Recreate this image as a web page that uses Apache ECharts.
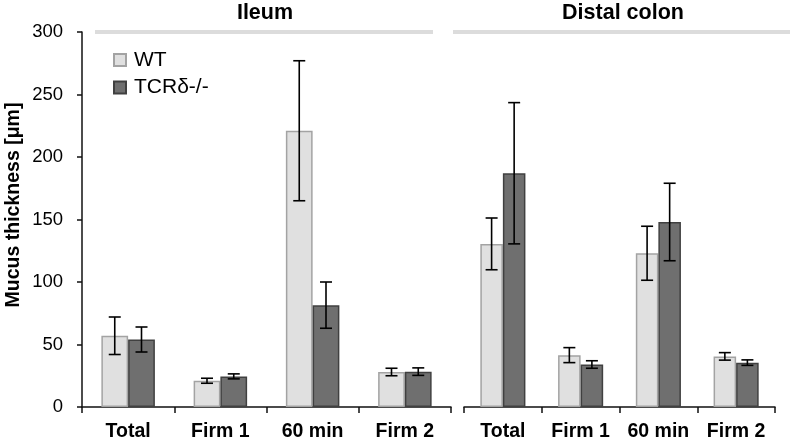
<!DOCTYPE html>
<html><head><meta charset="utf-8">
<script src="https://cdn.jsdelivr.net/npm/echarts@6/dist/echarts.min.js"></script>
<style>html,body{margin:0;padding:0;background:#fff}#c{width:792px;height:447px}</style>
</head><body><div id="c"></div>
<script>
const categories = ['Total', 'Firm 1', '60 min', 'Firm 2'];
const groups = ['Ileum', 'Distal colon'];
const seriesNames = ['WT', 'TCRδ-/-'];
const yTitle = 'Mucus thickness [μm]';
// Ileum
const ileumWT = [57, 21, 221, 28];
const ileumWTErr = [15, 2, 56, 3];
const ileumKO = [54, 24.5, 81.5, 28.3];
const ileumKOErr = [10, 2, 18.5, 3];
// Distal colon
const colonWT = [130.5, 41.5, 123, 40.5];
const colonWTErr = [20.7, 6, 21.6, 3];
const colonKO = [187, 34, 148, 35.5];
const colonKOErr = [56.5, 3, 31, 2.2];
const yTicks = [0, 50, 100, 150, 200, 250, 300];

const FONT = 'Liberation Sans, Arial, sans-serif';
const WT_STYLE = {color: '#e0e0e0', borderColor: '#a3a3a3', borderWidth: 1.5};
const KO_STYLE = {color: '#6f6f6f', borderColor: '#404040', borderWidth: 1.5};

function errData(vals, errs) {
  return vals.map((v, i) => [i, v - errs[i], v + errs[i]]);
}
function errSeries(idx, vals, errs, sign) {
  return {
    type: 'custom', xAxisIndex: idx, yAxisIndex: idx, z: 5,
    data: errData(vals, errs),
    encode: {x: 0, y: [1, 2]},
    renderItem: function (params, api) {
      const lo = api.coord([api.value(0), api.value(1)]);
      const hi = api.coord([api.value(0), api.value(2)]);
      const band = api.size([1, 0])[0];
      const x = lo[0] + sign * band * 0.145;
      const cap = 6;
      const st = {stroke: '#000', lineWidth: 1.6};
      return {type: 'group', children: [
        {type: 'line', shape: {x1: x, y1: lo[1], x2: x, y2: hi[1]}, style: st},
        {type: 'line', shape: {x1: x - cap, y1: lo[1], x2: x + cap, y2: lo[1]}, style: st},
        {type: 'line', shape: {x1: x - cap, y1: hi[1], x2: x + cap, y2: hi[1]}, style: st}
      ]};
    },
    silent: true
  };
}
function xAxisCfg(idx) {
  return {
    type: 'category', gridIndex: idx, data: categories,
    axisLine: {lineStyle: {color: '#111', width: 1.5}},
    axisTick: {show: true, length: 6, lineStyle: {color: '#111', width: 1.5}},
    axisLabel: {color: '#000', fontFamily: FONT, fontWeight: 'bold', fontSize: 19.5, margin: 15, interval: 0}
  };
}

const chart = echarts.init(document.getElementById('c'), null, {renderer: 'canvas'});
chart.setOption({
  animation: false,
  backgroundColor: '#fff',
  title: [
    {text: groups[0], left: 265, top: 2, padding: 0, textAlign: 'center',
     textStyle: {fontFamily: FONT, fontWeight: 'bold', fontSize: 21.5, color: '#000'}},
    {text: groups[1], left: 623, top: 2, padding: 0, textAlign: 'center',
     textStyle: {fontFamily: FONT, fontWeight: 'bold', fontSize: 21.5, color: '#000'}}
  ],
  graphic: [
    {type: 'line', shape: {x1: 95, y1: 32, x2: 433, y2: 32}, style: {stroke: '#dcdcdc', lineWidth: 4}, z: 0},
    {type: 'line', shape: {x1: 453, y1: 32, x2: 790, y2: 32}, style: {stroke: '#dcdcdc', lineWidth: 4}, z: 0},
    {type: 'text', x: 14, y: 205, rotation: Math.PI / 2,
     style: {text: yTitle, fontFamily: FONT, fontWeight: 'bold', fontSize: 19.5, fill: '#000',
             align: 'center', verticalAlign: 'middle'}}
  ],
  legend: {
    data: seriesNames, orient: 'vertical', left: 113, top: 48, padding: 0,
    itemWidth: 12, itemHeight: 12, itemGap: 3.5, icon: 'rect',
    textStyle: {fontFamily: FONT, fontSize: 21, color: '#000', lineHeight: 24, padding: [0, 0, 0, 3]}
  },
  grid: [
    {left: 82, right: 341, top: 32, bottom: 40},
    {left: 464, right: 17, top: 32, bottom: 40}
  ],
  xAxis: [xAxisCfg(0), xAxisCfg(1)],
  yAxis: [
    {type: 'value', gridIndex: 0, min: yTicks[0], max: yTicks[yTicks.length - 1], interval: 50,
     axisLine: {show: true, lineStyle: {color: '#111', width: 1.5}},
     axisTick: {show: true, length: 5, lineStyle: {color: '#111', width: 1.5}},
     splitLine: {show: false},
     axisLabel: {color: '#000', fontFamily: FONT, fontSize: 18.5, margin: 19}},
    {type: 'value', gridIndex: 1, min: yTicks[0], max: yTicks[yTicks.length - 1], interval: 50,
     axisLine: {show: false}, axisTick: {show: false}, axisLabel: {show: false}, splitLine: {show: false}}
  ],
  series: [
    {name: seriesNames[0], type: 'bar', xAxisIndex: 0, yAxisIndex: 0, data: ileumWT, barWidth: '29%', barGap: '0%', itemStyle: WT_STYLE},
    {name: seriesNames[1], type: 'bar', xAxisIndex: 0, yAxisIndex: 0, data: ileumKO, barWidth: '29%', barGap: '0%', itemStyle: KO_STYLE},
    {name: seriesNames[0], type: 'bar', xAxisIndex: 1, yAxisIndex: 1, data: colonWT, barWidth: '29%', barGap: '0%', itemStyle: WT_STYLE},
    {name: seriesNames[1], type: 'bar', xAxisIndex: 1, yAxisIndex: 1, data: colonKO, barWidth: '29%', barGap: '0%', itemStyle: KO_STYLE},
    errSeries(0, ileumWT, ileumWTErr, -1),
    errSeries(0, ileumKO, ileumKOErr, 1),
    errSeries(1, colonWT, colonWTErr, -1),
    errSeries(1, colonKO, colonKOErr, 1)
  ]
});
</script></body></html>
